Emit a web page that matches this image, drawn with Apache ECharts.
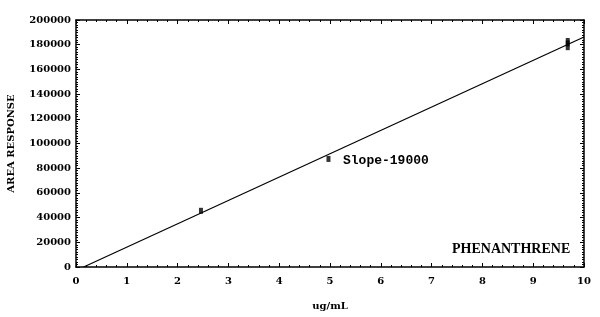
<!DOCTYPE html>
<html><head><meta charset="utf-8">
<script src="https://cdn.jsdelivr.net/npm/echarts@6/dist/echarts.min.js"></script>
<style>html,body{margin:0;padding:0;background:#fff}#c{width:600px;height:317px}</style>
</head><body><div id="c"></div>
<script>
const xTicks = [0,1,2,3,4,5,6,7,8,9,10];
const yTicks = [0,20000,40000,60000,80000,100000,120000,140000,160000,180000,200000];
const pointsX = [2.46, 4.97, 9.68, 9.68, 9.68];
const pointsY = [45500, 87500, 178000, 181000, 183000];
const fitX = [0.15, 10];
const fitY = [0, 186200];
const labelSlope = 'Slope-19000';
const labelCompound = 'PHENANTHRENE';

const chart = echarts.init(document.getElementById('c'));
const fontL = {fontFamily:'DejaVu Serif', fontWeight:'bold', fontSize:10, color:'#000'};
const axisCommon = {
  axisLine:{show:true, onZero:false, lineStyle:{color:'#000', width:1.5}},
  axisTick:{show:true, inside:true, length:4, lineStyle:{color:'#000'}},
  minorTick:{show:true, splitNumber:5, length:2, lineStyle:{color:'#000'}},
  splitLine:{show:false}
};
chart.setOption({
  animation:false,
  backgroundColor:'#fff',
  grid:{left:76, right:16, top:20, bottom:50, containLabel:false, outerBoundsMode:'none'},
  xAxis:[
    Object.assign({type:'value', min:0, max:10, interval:1, position:'bottom',
      name:'ug/mL', nameLocation:'middle', nameGap:34,
      nameTextStyle:Object.assign({}, fontL),
      axisLabel:Object.assign({}, fontL, {margin:9, formatter:v=>xTicks.includes(v)?String(v):''})}, axisCommon),
    Object.assign({type:'value', min:0, max:10, interval:1, position:'top', axisLabel:{show:false}}, axisCommon)
  ],
  yAxis:[
    Object.assign({type:'value', min:0, max:200000, interval:20000, position:'left',
      name:'AREA RESPONSE', nameLocation:'middle', nameGap:60, nameRotate:90,
      nameTextStyle:Object.assign({}, fontL),
      axisLabel:Object.assign({}, fontL, {margin:5, formatter:v=>yTicks.includes(v)?String(v):''})}, axisCommon,
      {minorTick:{show:true, splitNumber:10, length:2, lineStyle:{color:'#000'}}}),
    Object.assign({type:'value', min:0, max:200000, interval:20000, position:'right', axisLabel:{show:false}}, axisCommon,
      {minorTick:{show:true, splitNumber:10, length:2, lineStyle:{color:'#000'}}})
  ],
  series:[
    {type:'line', data:fitX.map((x,i)=>[x,fitY[i]]), showSymbol:false, symbol:'none',
     lineStyle:{color:'#000', width:1.2}},
    {type:'scatter', data:pointsX.map((x,i)=>[x,pointsY[i]]), symbol:'rect', symbolSize:[4,6],
     itemStyle:{color:'#000'}}
  ],
  graphic:[
    {type:'text', left:343, top:154, style:{text:labelSlope, font:'bold 13px "Liberation Mono"', fill:'#000'}},
    {type:'text', left:452, top:242, style:{text:labelCompound, font:'bold 14px "Liberation Serif"', fill:'#000'}}
  ]
});
</script></body></html>
